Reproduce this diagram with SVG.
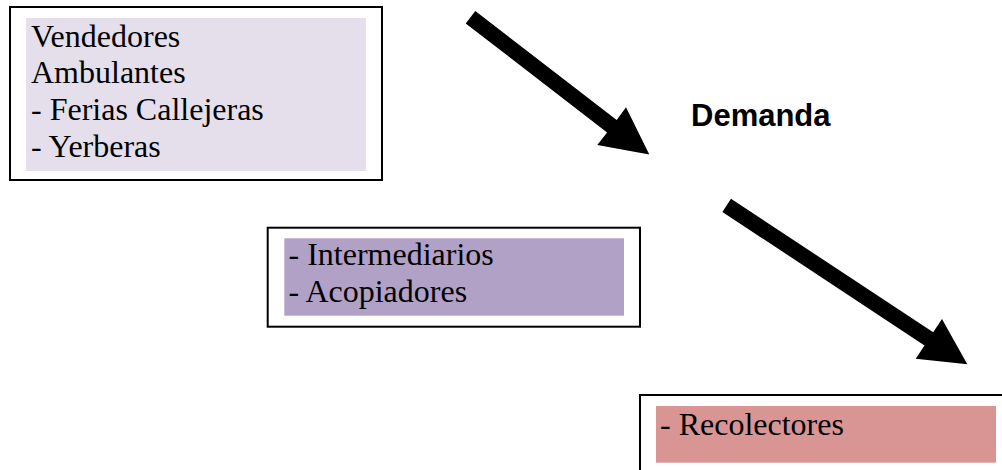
<svg xmlns="http://www.w3.org/2000/svg" width="1002" height="470" viewBox="0 0 1002 470">
<style>
.frame{fill:#ffffff;stroke:#000000;stroke-width:2}
.t{font-family:"Liberation Serif","Times New Roman",serif;font-size:32px;fill:#000000}
.lbl{font-family:"Liberation Sans",Arial,sans-serif;font-size:31px;font-weight:bold;fill:#000000}
.arrow{fill:#000000}
</style>
<rect width="1002" height="470" fill="#ffffff"/>
<g id="vendedores">
<rect class="frame" x="10" y="7" width="372" height="173"/>
<rect x="26" y="18" width="340" height="153" fill="#e5dfec"/>
<text class="t" x="31" y="46.5">Vendedores</text>
<text class="t" x="31" y="83">Ambulantes</text>
<text class="t" x="31" y="119.5">- Ferias Callejeras</text>
<text class="t" x="31" y="156.5">- Yerberas</text>
</g>
<g id="intermediarios">
<rect class="frame" x="267.7" y="227.7" width="372.3" height="99"/>
<rect x="284.3" y="238.3" width="339.7" height="77.4" fill="#b2a1c7"/>
<text class="t" x="288.5" y="265">- Intermediarios</text>
<text class="t" x="288.5" y="301.7">- Acopiadores</text>
</g>
<g id="recolectores">
<rect class="frame" x="640" y="395" width="380" height="100"/>
<rect x="656" y="406" width="340" height="56.7" fill="#d99594"/>
<text class="t" x="660" y="435">- Recolectores</text>
</g>
<g id="connectors">
<polygon class="arrow" points="465.7,23.4 475.3,11 616.7,120 626,107.3 649.3,154.5 597.3,145 607.1,132.4"/>
<polygon class="arrow" points="722.4,211.9 731,198.8 933.2,332.2 942,318.9 967.3,364.3 915.7,358.7 924.5,345.4"/>
<text class="lbl" x="691" y="125.7">Demanda</text>
</g>
</svg>
